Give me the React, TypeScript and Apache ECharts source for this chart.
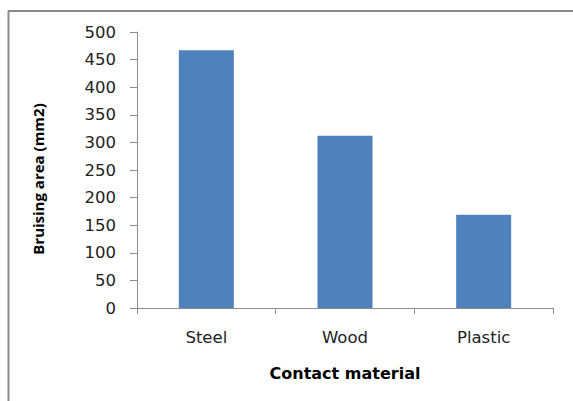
import React, { useEffect, useRef } from "react";
import * as echarts from "echarts";

const categories = ["Steel", "Wood", "Plastic"];
const bruisingArea = [467, 312, 169];
const yTicks = { min: 0, max: 500, interval: 50 };
const yTitle = "Bruising area (mm2)";
const xTitle = "Contact material";

const FONT = "'DejaVu Sans', 'Open Sans', sans-serif";
const TITLE_FONT = "'Open Sans', 'DejaVu Sans', sans-serif";

export default function App() {
  const ref = useRef<HTMLDivElement>(null);

  useEffect(() => {
    if (!ref.current) return;
    const chart = echarts.init(ref.current, null, { renderer: "svg" });
    chart.setOption({
      animation: false,
      backgroundColor: "#ffffff",
      grid: { left: 137, right: 20, top: 32, bottom: 93 },
      xAxis: {
        type: "category",
        data: categories,
        axisLine: { lineStyle: { color: "#8c8c8c", width: 1 } },
        axisTick: { show: true, length: 6, lineStyle: { color: "#8c8c8c" } },
        axisLabel: {
          margin: 21,
          fontFamily: FONT,
          fontSize: 16.5,
          color: "#222",
        },
      },
      yAxis: {
        type: "value",
        min: yTicks.min,
        max: yTicks.max,
        interval: yTicks.interval,
        splitLine: { show: false },
        axisLine: { show: true, lineStyle: { color: "#8c8c8c", width: 1 } },
        axisTick: { show: true, length: 7, lineStyle: { color: "#8c8c8c" } },
        axisLabel: {
          margin: 21,
          fontFamily: FONT,
          fontSize: 16.5,
          color: "#222",
        },
      },
      series: [
        {
          type: "bar",
          data: bruisingArea,
          barWidth: 55,
          itemStyle: { color: "#4f81bd" },
        },
      ],
      graphic: [
        {
          type: "line",
          shape: { x1: 8.5, y1: 11, x2: 8.5, y2: 401 },
          style: { stroke: "#8a8a8a", lineWidth: 2 },
        },
        {
          type: "line",
          shape: { x1: 8, y1: 11, x2: 573, y2: 11 },
          style: { stroke: "#8a8a8a", lineWidth: 2 },
        },
        {
          type: "text",
          x: 38,
          y: 179,
          rotation: Math.PI / 2,
          style: {
            text: yTitle,
            fontFamily: TITLE_FONT,
            fontSize: 15,
            fontWeight: "bold",
            fill: "#000",
            textAlign: "center",
            textVerticalAlign: "middle",
          },
        },
        {
          type: "text",
          x: 345,
          y: 373,
          style: {
            text: xTitle,
            fontFamily: FONT,
            fontSize: 16,
            fontWeight: "bold",
            fill: "#000",
            textAlign: "center",
            textVerticalAlign: "middle",
          },
        },
      ],
    });
    return () => chart.dispose();
  }, []);

  return (
    <div
      ref={ref}
      style={{ position: "absolute", left: 0, top: 0, width: 573, height: 401 }}
    />
  );
}
